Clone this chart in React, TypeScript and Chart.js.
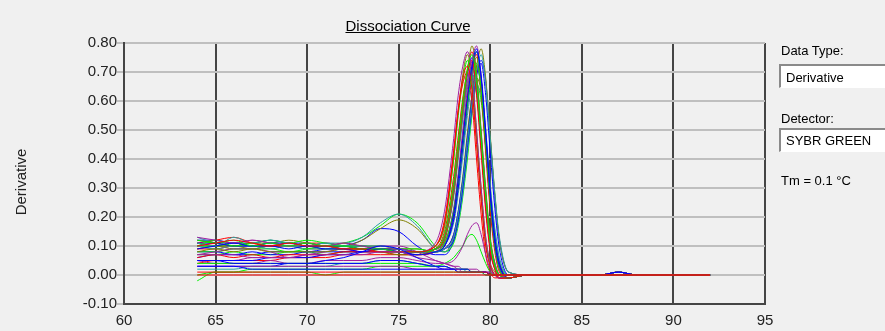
import React, { useEffect, useRef } from "react";
import { Chart, registerables } from "chart.js";

Chart.register(...registerables);

// Temperature grid (°C) shared by all wells
const TEMPS = [64, 65, 66, 67, 68, 69, 70, 71, 72, 73, 74, 75, 76, 77, 77.5, 78, 78.25, 78.5, 78.75, 79, 79.25, 79.5, 79.75, 80, 80.25, 80.5, 81, 82, 84, 86, 87, 88, 90, 92];

const X_TICKS = [60, 65, 70, 75, 80, 85, 90, 95];
const Y_TICKS = [-0.1, 0, 0.1, 0.2, 0.3, 0.4, 0.5, 0.6, 0.7, 0.8];

const RED = "#ff0000";
const GREEN = "#00ee00";
const BLUE = "#0000ff";
const PURPLE = "#a020a0";
const OLIVE = "#808000";
const TEAL = "#2aa0a0";

// Derivative values per well
const W01 = [0.10,0.11,0.12,0.11,0.10,0.11,0.10,0.10,0.09,0.09,0.08,0.08,0.08,0.10,0.18,0.42,0.57,0.68,0.72,0.64,0.45,0.26,0.10,0.03,0.00,-0.01,-0.01,0.00,0.00,0.00,0.01,0.00,0.00,0.00];
const W02 = [0.12,0.11,0.12,0.10,0.11,0.10,0.11,0.10,0.10,0.09,0.09,0.08,0.08,0.09,0.14,0.32,0.46,0.60,0.71,0.76,0.67,0.47,0.27,0.11,0.03,0.00,-0.01,0.00,0.00,0.00,0.01,0.00,0.00,0.00];
const W03 = [0.09,0.10,0.11,0.10,0.10,0.09,0.10,0.09,0.09,0.08,0.09,0.08,0.07,0.08,0.10,0.21,0.33,0.47,0.61,0.72,0.78,0.68,0.48,0.27,0.11,0.03,-0.01,0.00,0.00,0.00,0.01,0.00,0.00,0.00];
const W04 = [0.13,0.12,0.11,0.12,0.11,0.10,0.11,0.10,0.11,0.10,0.09,0.09,0.08,0.11,0.22,0.47,0.62,0.72,0.77,0.70,0.50,0.30,0.13,0.04,0.00,-0.01,-0.01,0.00,0.00,0.00,0.01,0.00,0.00,0.00];
const W05 = [0.08,0.09,0.08,0.09,0.08,0.08,0.08,0.08,0.09,0.09,0.08,0.07,0.07,0.09,0.12,0.28,0.42,0.57,0.70,0.79,0.70,0.50,0.30,0.13,0.04,0.00,-0.01,0.00,0.00,0.00,0.01,0.00,0.00,0.00];
const W06 = [0.11,0.10,0.13,0.11,0.12,0.11,0.10,0.11,0.10,0.10,0.10,0.09,0.08,0.08,0.09,0.13,0.21,0.32,0.46,0.59,0.70,0.76,0.66,0.47,0.28,0.13,0.01,0.00,0.00,0.00,0.01,0.00,0.00,0.00];
const W07 = [0.06,0.07,0.06,0.07,0.06,0.07,0.07,0.07,0.08,0.08,0.08,0.07,0.07,0.09,0.15,0.34,0.48,0.61,0.70,0.74,0.62,0.42,0.22,0.08,0.02,-0.01,-0.01,0.00,0.00,0.00,0.01,0.00,0.00,0.00];
const W08 = [0.10,0.12,0.10,0.11,0.12,0.11,0.12,0.11,0.10,0.10,0.09,0.09,0.09,0.08,0.11,0.22,0.33,0.46,0.59,0.69,0.73,0.64,0.45,0.25,0.10,0.02,-0.01,0.00,0.00,0.00,0.01,0.00,0.00,0.00];
const W09 = [0.11,0.11,0.10,0.10,0.11,0.11,0.10,0.10,0.10,0.09,0.09,0.09,0.08,0.08,0.10,0.19,0.30,0.44,0.58,0.70,0.77,0.69,0.50,0.29,0.13,0.04,-0.01,0.00,0.00,0.00,0.01,0.00,0.00,0.00];
const W10 = [0.07,0.08,0.09,0.09,0.08,0.06,0.07,0.08,0.09,0.08,0.08,0.08,0.07,0.08,0.12,0.28,0.42,0.56,0.67,0.72,0.64,0.44,0.24,0.09,0.02,0.00,-0.01,0.00,0.00,0.00,0.01,0.00,0.00,0.00];
const W11 = [0.12,0.11,0.10,0.11,0.11,0.12,0.11,0.10,0.10,0.10,0.09,0.09,0.08,0.08,0.10,0.20,0.31,0.45,0.59,0.70,0.75,0.67,0.48,0.28,0.12,0.04,-0.01,0.00,0.00,0.00,0.01,0.00,0.00,0.00];
const W12 = [0.10,0.09,0.10,0.10,0.09,0.10,0.10,0.11,0.10,0.09,0.08,0.08,0.08,0.09,0.12,0.27,0.40,0.54,0.66,0.71,0.65,0.47,0.28,0.12,0.04,0.00,-0.01,0.00,0.00,0.00,0.01,0.00,0.00,0.00];
const W13 = [0.11,0.12,0.13,0.11,0.10,0.10,0.11,0.11,0.10,0.09,0.09,0.08,0.08,0.10,0.19,0.43,0.57,0.66,0.70,0.60,0.40,0.21,0.07,0.01,-0.01,-0.01,-0.01,0.00,0.00,0.00,0.01,0.00,0.00,0.00];
const W14 = [0.08,0.08,0.09,0.09,0.09,0.08,0.09,0.10,0.09,0.09,0.08,0.08,0.08,0.10,0.17,0.40,0.55,0.67,0.74,0.66,0.47,0.27,0.11,0.03,0.00,-0.01,-0.01,0.00,0.00,0.00,0.01,0.00,0.00,0.00];
const W15 = [0.05,0.05,0.05,0.05,0.06,0.06,0.06,0.07,0.07,0.08,0.08,0.08,0.08,0.08,0.09,0.14,0.22,0.33,0.47,0.60,0.69,0.73,0.62,0.42,0.23,0.09,0.00,0.00,0.00,0.00,0.01,0.00,0.00,0.00];
const W16 = [0.10,0.11,0.11,0.12,0.11,0.10,0.10,0.10,0.10,0.10,0.09,0.09,0.08,0.09,0.11,0.23,0.35,0.50,0.64,0.74,0.79,0.68,0.47,0.26,0.10,0.02,-0.01,0.00,0.00,0.00,0.01,0.00,0.00,0.00];
const W17 = [0.11,0.10,0.10,0.09,0.10,0.10,0.11,0.10,0.11,0.10,0.10,0.09,0.09,0.08,0.09,0.14,0.22,0.34,0.49,0.62,0.72,0.78,0.68,0.48,0.28,0.12,0.01,0.00,0.00,0.00,0.01,0.00,0.00,0.00];
const W18 = [0.13,0.11,0.10,0.10,0.11,0.10,0.09,0.09,0.09,0.10,0.09,0.08,0.08,0.08,0.10,0.18,0.28,0.41,0.55,0.66,0.72,0.67,0.50,0.31,0.15,0.05,0.00,0.00,0.00,0.00,0.01,0.00,0.00,0.00];
const W19 = [0.09,0.09,0.10,0.10,0.10,0.11,0.10,0.10,0.09,0.09,0.09,0.08,0.08,0.09,0.13,0.31,0.45,0.59,0.71,0.77,0.66,0.45,0.24,0.09,0.02,-0.01,-0.01,0.00,0.00,0.00,0.01,0.00,0.00,0.00];
const W20 = [0.10,0.10,0.11,0.10,0.10,0.10,0.10,0.09,0.09,0.09,0.09,0.09,0.08,0.09,0.13,0.29,0.42,0.55,0.65,0.69,0.63,0.45,0.26,0.11,0.03,0.00,-0.01,0.00,0.00,0.00,0.01,0.00,0.00,0.00];
const W21 = [0.12,0.12,0.11,0.11,0.12,0.11,0.11,0.10,0.10,0.10,0.09,0.09,0.08,0.09,0.13,0.29,0.43,0.57,0.69,0.75,0.68,0.49,0.29,0.12,0.04,0.00,-0.01,0.00,0.00,0.00,0.01,0.00,0.00,0.00];
const W22 = [0.04,0.05,0.05,0.05,0.05,0.06,0.06,0.06,0.07,0.07,0.07,0.07,0.07,0.08,0.11,0.22,0.34,0.48,0.62,0.72,0.76,0.63,0.42,0.22,0.08,0.01,-0.01,0.00,0.00,0.00,0.01,0.00,0.00,0.00];
const W23 = [0.09,0.10,0.09,0.09,0.10,0.10,0.09,0.09,0.09,0.09,0.09,0.08,0.08,0.10,0.17,0.40,0.56,0.69,0.76,0.69,0.50,0.30,0.13,0.04,0.01,-0.01,-0.01,0.00,0.00,0.00,0.01,0.00,0.00,0.00];
const W24 = [0.08,0.08,0.07,0.08,0.07,0.07,0.08,0.08,0.08,0.08,0.09,0.08,0.07,0.08,0.09,0.12,0.19,0.30,0.44,0.58,0.69,0.74,0.67,0.47,0.27,0.12,0.01,0.00,0.00,0.00,0.01,0.00,0.00,0.00];
const W25 = [0.07,0.07,0.08,0.07,0.07,0.08,0.08,0.07,0.08,0.08,0.08,0.08,0.07,0.08,0.10,0.20,0.32,0.46,0.60,0.71,0.77,0.66,0.45,0.25,0.10,0.02,-0.01,0.00,0.00,0.00,0.01,0.00,0.00,0.00];
const W26 = [0.09,0.10,0.10,0.11,0.10,0.10,0.10,0.11,0.11,0.13,0.18,0.21,0.17,0.09,0.08,0.12,0.18,0.28,0.42,0.56,0.65,0.62,0.48,0.30,0.16,0.06,0.00,0.00,0.00,0.00,0.01,0.00,0.00,0.00];
const W27 = [0.10,0.10,0.11,0.10,0.10,0.11,0.10,0.10,0.11,0.13,0.17,0.21,0.18,0.10,0.08,0.11,0.17,0.27,0.40,0.55,0.66,0.60,0.44,0.25,0.12,0.04,0.00,0.00,0.00,0.00,0.01,0.00,0.00,0.00];
const W28 = [0.11,0.10,0.10,0.10,0.10,0.10,0.10,0.10,0.10,0.12,0.16,0.19,0.16,0.09,0.08,0.13,0.20,0.31,0.45,0.58,0.68,0.63,0.46,0.27,0.13,0.04,-0.01,0.00,0.00,0.00,0.01,0.00,0.00,0.00];
const W29 = [0.06,0.07,0.07,0.07,0.08,0.08,0.08,0.09,0.10,0.12,0.16,0.15,0.10,0.07,0.07,0.12,0.20,0.32,0.47,0.62,0.72,0.64,0.44,0.24,0.10,0.03,-0.01,0.00,0.00,0.00,0.01,0.00,0.00,0.00];
const W30 = [0.05,0.05,0.05,0.06,0.06,0.06,0.06,0.07,0.08,0.09,0.10,0.10,0.08,0.05,0.04,0.03,0.03,0.02,0.02,0.02,0.02,0.01,0.01,0.01,0.00,0.00,0.00,0.00,0.00,0.00,0.01,0.00,0.00,0.00];
const W31 = [0.05,0.04,0.04,0.04,0.05,0.04,0.04,0.05,0.05,0.05,0.06,0.06,0.05,0.04,0.04,0.05,0.07,0.10,0.14,0.17,0.18,0.14,0.07,0.02,0.00,-0.01,0.00,0.00,0.00,0.00,0.01,0.00,0.00,0.00];
const W32 = [-0.02,0.01,0.01,0.02,0.02,0.02,0.02,0.02,0.02,0.02,0.03,0.03,0.03,0.03,0.04,0.06,0.08,0.10,0.13,0.14,0.12,0.08,0.04,0.01,0.00,0.00,0.00,0.00,0.00,0.00,0.01,0.00,0.00,0.00];
const W33 = [0.01,0.01,0.01,0.01,0.01,0.01,0.01,0.01,0.01,0.01,0.01,0.01,0.01,0.01,0.01,0.01,0.01,0.01,0.01,0.01,0.01,0.01,0.01,0.00,0.00,0.00,0.00,0.00,0.00,0.00,0.00,0.00,0.00,0.00];
const W34 = [0.00,0.00,0.00,0.00,0.00,0.00,0.00,0.00,0.00,0.00,0.00,0.00,0.00,0.00,0.00,0.00,0.00,0.00,0.00,0.00,0.00,0.00,0.00,0.00,0.00,0.00,0.00,0.00,0.00,0.00,0.00,0.00,0.00,0.00];
const W35 = [0.00,0.01,0.01,0.01,0.01,0.01,0.01,0.00,0.01,0.01,0.01,0.01,0.01,0.01,0.01,0.01,0.01,0.01,0.01,0.01,0.01,0.01,0.00,0.00,0.00,0.00,0.00,0.00,0.00,0.00,0.00,0.00,0.00,0.00];
const W36 = [0.03,0.03,0.03,0.02,0.02,0.02,0.02,0.02,0.02,0.02,0.02,0.02,0.02,0.02,0.02,0.02,0.01,0.01,0.01,0.01,0.01,0.01,0.01,0.00,0.00,0.00,0.00,0.00,0.00,0.00,0.00,0.00,0.00,0.00];
const W37 = [0.03,0.03,0.03,0.03,0.03,0.03,0.03,0.03,0.03,0.03,0.03,0.03,0.02,0.02,0.02,0.02,0.02,0.01,0.01,0.01,0.01,0.01,0.01,0.01,0.00,0.00,0.00,0.00,0.00,0.00,0.00,0.00,0.00,0.00];
const W38 = [0.05,0.05,0.04,0.04,0.04,0.04,0.04,0.04,0.04,0.04,0.05,0.05,0.04,0.03,0.03,0.02,0.02,0.02,0.02,0.01,0.01,0.01,0.01,0.00,0.00,0.00,0.00,0.00,0.00,0.00,0.01,0.00,0.00,0.00];
const W39 = [0.02,0.02,0.02,0.03,0.03,0.03,0.03,0.03,0.04,0.04,0.05,0.05,0.04,0.03,0.03,0.02,0.02,0.02,0.01,0.01,0.01,0.01,0.01,0.00,0.00,0.00,0.00,0.00,0.00,0.00,0.00,0.00,0.00,0.00];
const W40 = [0.04,0.04,0.04,0.04,0.04,0.04,0.04,0.04,0.04,0.04,0.04,0.04,0.04,0.03,0.03,0.02,0.02,0.02,0.02,0.01,0.01,0.01,0.01,0.00,0.00,0.00,0.00,0.00,0.00,0.00,0.00,0.00,0.00,0.00];
const W41 = [0.03,0.03,0.03,0.03,0.03,0.04,0.04,0.05,0.06,0.08,0.10,0.09,0.06,0.03,0.02,0.02,0.01,0.01,0.01,0.01,0.01,0.01,0.00,0.00,0.00,0.00,0.00,0.00,0.00,0.00,0.01,0.00,0.00,0.00];
const W42 = [0.07,0.07,0.07,0.06,0.06,0.06,0.07,0.07,0.07,0.07,0.08,0.08,0.06,0.05,0.04,0.03,0.02,0.02,0.02,0.01,0.01,0.01,0.01,0.00,0.00,0.00,0.00,0.00,0.00,0.00,0.00,0.00,0.00,0.00];

const WELLS: [number[], string][] = [
  [W34, RED], [W33, RED], [W35, GREEN], [W36, BLUE], [W37, PURPLE], [W38, BLUE],
  [W39, TEAL], [W40, GREEN], [W41, BLUE], [W42, PURPLE], [W31, PURPLE], [W32, GREEN],
  [W01, RED], [W02, GREEN], [W03, BLUE], [W04, PURPLE], [W05, OLIVE], [W06, TEAL],
  [W07, RED], [W08, GREEN], [W09, BLUE], [W10, PURPLE], [W11, OLIVE], [W12, TEAL],
  [W13, RED], [W14, GREEN], [W15, BLUE], [W16, PURPLE], [W17, OLIVE], [W18, TEAL],
  [W19, RED], [W20, GREEN], [W21, BLUE], [W22, RED], [W23, OLIVE], [W24, BLUE],
  [W25, GREEN], [W26, TEAL], [W27, GREEN], [W28, OLIVE], [W29, BLUE], [W30, PURPLE],
];

const FONT = "'Liberation Sans', Arial, sans-serif";

export default function App() {
  const canvasRef = useRef<HTMLCanvasElement | null>(null);

  useEffect(() => {
    document.body.style.margin = "0";
    document.body.style.background = "#f0f0f0";
    const canvas = canvasRef.current;
    if (!canvas) return;
    const chart = new Chart(canvas, {
      type: "line",
      data: {
        datasets: WELLS.map(([vals, color]) => ({
          data: vals.map((v, i) => ({ x: TEMPS[i], y: v })),
          borderColor: color,
          borderWidth: 1,
          pointRadius: 0,
          fill: false,
          cubicInterpolationMode: "monotone" as const,
        })),
      },
      options: {
        animation: false,
        responsive: false,
        maintainAspectRatio: false,
        layout: { padding: { top: 43, right: 120, bottom: 0, left: 0 } },
        plugins: { legend: { display: false }, tooltip: { enabled: false } },
        scales: {
          x: {
            type: "linear",
            min: 60,
            max: 95,
            afterBuildTicks: (s: any) => {
              s.ticks = X_TICKS.map((v) => ({ value: v }));
            },
            afterFit: (s: any) => {
              s.height = 27;
            },
            ticks: {
              font: { family: FONT, size: 15 },
              color: "#222",
              padding: 8,
              maxRotation: 0,
              callback: (v: any) => String(v),
            },
            grid: { color: "#454545", lineWidth: 2, drawTicks: false },
            border: { color: "#454545", width: 2 },
          },
          y: {
            min: -0.1,
            max: 0.8,
            afterBuildTicks: (s: any) => {
              s.ticks = Y_TICKS.map((v) => ({ value: v }));
            },
            afterFit: (s: any) => {
              s.width = 124;
            },
            ticks: {
              font: { family: FONT, size: 15 },
              color: "#222",
              padding: 0,
              callback: (v: any) => Number(v).toFixed(2),
            },
            grid: { color: "#bfbfbf", lineWidth: 2, tickLength: 7 },
            border: { color: "#454545", width: 2 },
          },
        },
      },
    });
    return () => chart.destroy();
  }, []);

  const label: React.CSSProperties = {
    position: "absolute",
    fontFamily: FONT,
    fontSize: 13,
    lineHeight: "15px",
    color: "#000",
    whiteSpace: "nowrap",
  };
  const box: React.CSSProperties = {
    position: "absolute",
    left: 779,
    width: 110,
    height: 24,
    boxSizing: "border-box",
    background: "#fff",
    borderTop: "2px solid #8a8a8a",
    borderLeft: "2px solid #8a8a8a",
    borderBottom: "1px solid #ffffff",
    borderRight: "1px solid #ffffff",
  };

  return (
    <div style={{ position: "relative", width: 885, height: 331, background: "#f0f0f0", overflow: "hidden" }}>
      <canvas ref={canvasRef} width={885} height={331} style={{ position: "absolute", left: 0, top: 0, width: 885, height: 331 }} />
      <div style={{ ...label, left: 308, width: 200, top: 17, fontSize: 15, lineHeight: "17px", textAlign: "center", textDecoration: "underline" }}>
        Dissociation Curve
      </div>
      <div style={{ ...label, left: 13, top: 174, width: 68, height: 16, fontSize: 15, lineHeight: "16px", color: "#222", fontWeight: 400, transformOrigin: "34px 8px", transform: "translate(-26px, 0) rotate(-90deg)", textAlign: "center" }}>
        Derivative
      </div>
      <div style={{ ...label, left: 781, top: 43 }}>Data Type:</div>
      <div style={{ ...box, top: 64 }}>
        <div style={{ ...label, left: 5, top: 4 }}>Derivative</div>
      </div>
      <div style={{ ...label, left: 781, top: 111 }}>Detector:</div>
      <div style={{ ...box, top: 128 }}>
        <div style={{ ...label, left: 5, top: 3 }}>SYBR GREEN</div>
      </div>
      <div style={{ ...label, left: 781, top: 173 }}>Tm = 0.1 °C</div>
    </div>
  );
}
